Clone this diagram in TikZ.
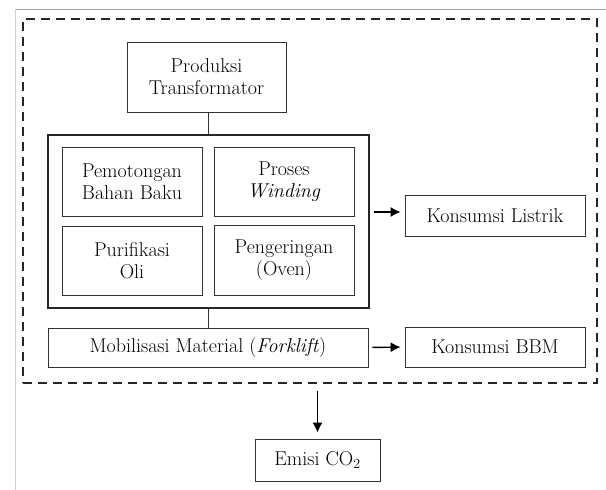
\documentclass[tikz,border=0pt]{standalone}
\usepackage{fontspec}
\usetikzlibrary{arrows.meta, positioning, calc}

\begin{document}
\begin{tikzpicture}[x=1pt,y=-1pt]

\tikzstyle{box}  = [rectangle, draw=black!80, line width=0.8pt, align=center,
  inner sep=0pt, font=\fontsize{20}{22}\selectfont]
\tikzstyle{corebox}  = [rectangle, draw=black!85, line width=2pt, inner sep=0pt]
\tikzstyle{sysbox}  = [rectangle, draw=black!85, line width=1.5pt,
  dash pattern=on 9pt off 6pt, inner sep=0pt]
\tikzstyle{link}  = [black!80, line width=0.8pt]
\tikzstyle{flow}  = [-{Latex[length=10pt,width=10pt]}, line width=1.4pt,
  shorten <=4pt, shorten >=4pt]

\useasboundingbox (0,0) rectangle (606,490);

% page frame
\draw[gray!70, line width=1pt] (15,9) -- (606,9);
\draw[gray!35, line width=0.8pt] (15,9) -- (15,490);

\def\bw{140pt}
\def\bh{69pt}

\node (system) [sysbox, minimum width=574pt, minimum height=364pt] at (310,201) {};

\node (produksi) [box, minimum width=159pt, minimum height=70pt] at (206.5,77)
  {Produksi\\Transformator};

\node (core) [corebox, minimum width=321pt, minimum height=173pt] at (208.5,221.5) {};

\node (potong) [box, minimum width=\bw, minimum height=\bh] at (132,181.5)
  {Pemotongan\\Bahan Baku};
\node (winding) [box, minimum width=\bw, minimum height=\bh] at (284,181.5)
  {Proses\\\textit{Winding}};
\node (oli) [box, minimum width=\bw, minimum height=\bh] at (132,260.5)
  {Purifikasi\\Oli};
\node (oven) [box, minimum width=\bw, minimum height=70pt] at (284,260)
  {Pengeringan\\(Oven)};

\node (mobil) [box, minimum width=320pt, minimum height=39pt] at (208,347.5)
  {Mobilisasi Material (\textit{Forklift})};

\node (listrik) [box, minimum width=180pt, minimum height=41pt] at (495,215.5)
  {Konsumsi Listrik};
\node (bbm) [box, minimum width=180pt, minimum height=40pt] at (495,347)
  {Konsumsi BBM};

\node (emisi) [box, minimum width=125pt, minimum height=42pt] at (317.5,460)
  {Emisi CO\textsubscript{2}};

\draw[link] (produksi.south -| core.north) -- (core.north);
\draw[link] (core.south) -- (core.south |- mobil.north);

\draw[flow] (core.east |- 0,212) -- (listrik.west |- 0,212);
\draw[flow] (mobil.east) -- (bbm.west);
\draw[flow,shorten <=7pt,shorten >=6pt] (system.south -| emisi.north) -- (emisi.north);

\end{tikzpicture}
\end{document}
